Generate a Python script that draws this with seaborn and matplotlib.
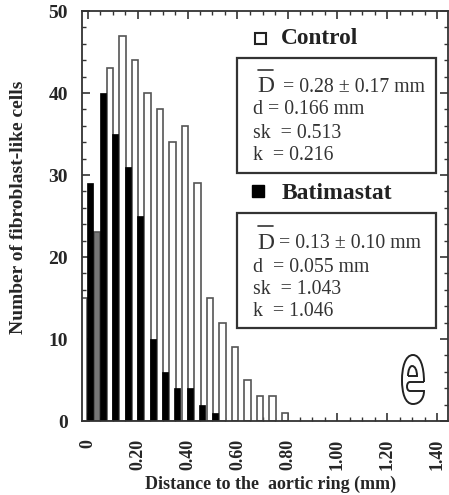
import matplotlib
matplotlib.use('Agg')
import matplotlib.pyplot as plt
from matplotlib.patches import Rectangle, PathPatch
from matplotlib.path import Path
import seaborn as sns
import pandas as pd

sns.set_theme(style='ticks')
plt.rcParams['font.family'] = ['Liberation Serif', 'DejaVu Serif']

# bar positions and counts
control_x = [-0.015, 0.037, 0.09, 0.14, 0.19, 0.24, 0.29, 0.34, 0.39, 0.44, 0.49, 0.54, 0.59, 0.64, 0.69, 0.74, 0.79]
control_y = [15, 23, 43, 47, 44, 40, 38, 34, 36, 29, 15, 12, 9, 5, 3, 3, 1]
batimastat_x = [0.008, 0.06, 0.11, 0.16, 0.21, 0.26, 0.31, 0.36, 0.41, 0.46, 0.51]
batimastat_y = [29, 40, 35, 31, 25, 10, 6, 4, 4, 2, 1]

xticks = [0, 0.2, 0.4, 0.6, 0.8, 1.0, 1.2, 1.4]
xlabels = ['0', '0.20', '0.40', '0.60', '0.80', '1.00', '1.20', '1.40']
yticks = [0, 10, 20, 30, 40, 50]

control = pd.DataFrame({'d': control_x, 'n': control_y})
batimastat = pd.DataFrame({'d': batimastat_x, 'n': batimastat_y})

fig = plt.figure(figsize=(4.49, 4.95), dpi=100)
ax = fig.add_axes([82 / 449, 1 - 421 / 495, 366 / 449, 410 / 495])

# width is a fraction of the smallest spacing between bars
sns.barplot(data=control, x='d', y='n', native_scale=True, width=0.5, color='white',
            edgecolor='#555555', linewidth=1.2, saturation=1, ax=ax)
ax.patches[1].set_facecolor('#777777')
sns.barplot(data=batimastat, x='d', y='n', native_scale=True, width=0.48, color='black',
            edgecolor='black', linewidth=0.5, saturation=1, ax=ax)

ax.set_xlim(-0.022, 1.442)
ax.set_ylim(0, 50)
ax.set_xticks(xticks)
ax.set_xticklabels(xlabels, rotation=90, fontweight='bold', fontsize=13)
ax.set_yticks(yticks)
ax.set_yticklabels(yticks, fontweight='bold', fontsize=14)
ax.set_xticks([i * 0.05 for i in range(29)], minor=True)
ax.set_yticks(range(0, 51, 2), minor=True)
ax.tick_params(axis='x', which='major', direction='in', length=6, width=1.2, color='#333333', pad=13)
ax.tick_params(axis='y', which='major', direction='in', length=6, width=1.2, color='#333333', pad=10)
ax.tick_params(axis='both', which='minor', direction='in', length=3, width=1, color='#333333')
ax.tick_params(axis='y', which='both', right=True)
ax.tick_params(axis='x', which='both', top=True)
for s in ax.spines.values():
    s.set_linewidth(1.3)
    s.set_color('#333333')

ax.set_xlabel('Distance to the  aortic ring (mm)', fontweight='bold', fontsize=13)
ax.set_ylabel('Number of fibroblast-like cells', fontweight='bold', fontsize=14)
ax.xaxis.set_label_coords(0.515, -0.133)
ax.yaxis.set_label_coords(-0.15, 0.52)


def px(x, y):
    return x / 449, 1 - y / 495


# legend squares and stats boxes in figure pixels
fig.add_artist(Rectangle(px(255, 44), 11 / 449, 11 / 495, transform=fig.transFigure,
                         facecolor='white', edgecolor='#222222', linewidth=1.5))
fig.add_artist(Rectangle(px(252, 197), 12 / 449, 12 / 495, transform=fig.transFigure,
                         facecolor='black', edgecolor='black'))
fig.text(*px(281, 38), 'Control', fontsize=16.8, fontweight='bold', va='center', color='#222222')
fig.text(*px(282, 193), 'Batimastat', fontsize=17, fontweight='bold', va='center', color='#222222')

fig.add_artist(Rectangle(px(237, 173), 199 / 449, 115 / 495, transform=fig.transFigure,
                         facecolor='none', edgecolor='#333333', linewidth=1.6))
fig.add_artist(Rectangle(px(237, 328), 199 / 449, 115 / 495, transform=fig.transFigure,
                         facecolor='none', edgecolor='#333333', linewidth=1.6))

control_lines = [(257, 87, 'D', 17), (283, 88, '= 0.28 ± 0.17 mm', 14.2), (253, 110, 'd = 0.166 mm', 14.2),
                 (253, 133, 'sk  = 0.513', 14.2), (253, 155, 'k  = 0.216', 14.2)]
batimastat_lines = [(257, 243, 'D', 17), (279, 243, '= 0.13 ± 0.10 mm', 14.2), (253, 267, 'd  = 0.055 mm', 14.2),
                    (253, 290, 'sk  = 1.043', 14.2), (253, 312, 'k  = 1.046', 14.2)]
for x, y, s, size in control_lines + batimastat_lines:
    fig.text(*px(x, y), s, fontsize=size, va='center', color='#333333')

fig.add_artist(plt.Line2D([258 / 449, 273 / 449], [1 - 70 / 495] * 2, color='#333333', linewidth=1.2))
fig.add_artist(plt.Line2D([258 / 449, 273 / 449], [1 - 226 / 495] * 2, color='#333333', linewidth=1.2))

# publisher mark at lower right, drawn in figure pixels
C3 = Path.CURVE4
outer = [(424, 382), (424, 366), (420, 355), (413, 355), (405, 355), (402, 368), (402, 380),
         (402, 393), (405, 404), (413, 404), (420, 404), (424, 398), (424, 391),
         (410, 391), (406, 391), (406, 382), (410, 382), (424, 382)]
outer_codes = [Path.MOVETO] + [C3] * 12 + [Path.LINETO] + [C3] * 3 + [Path.LINETO]
inner = [(408, 376), (408, 370), (410, 366), (412, 366), (415, 366), (417, 370), (417, 376), (408, 376)]
inner_codes = [Path.MOVETO] + [C3] * 6 + [Path.LINETO]
for verts, codes in ((outer, outer_codes), (inner, inner_codes)):
    fig.add_artist(PathPatch(Path([px(*v) for v in verts], codes), transform=fig.transFigure,
                             facecolor='none', edgecolor='#222222', linewidth=1.4))

fig.savefig('out.png', dpi=100)
